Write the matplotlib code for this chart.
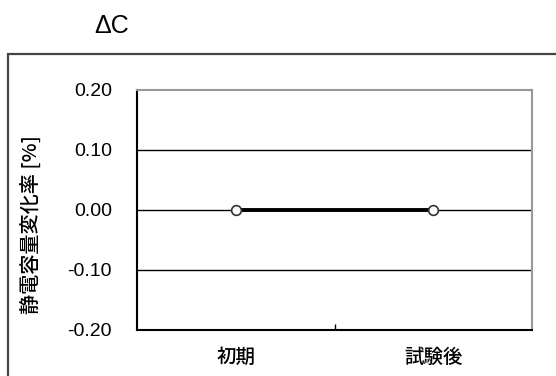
import matplotlib
matplotlib.use("Agg")
import matplotlib.pyplot as plt
from matplotlib.patches import Rectangle
from matplotlib.transforms import ScaledTranslation

plt.rcParams['font.family'] = ['Liberation Sans', 'Noto Sans CJK JP', 'DejaVu Sans']

categories = ['初期', '試験後']
values = [0.00, 0.00]
yticks = [-0.20, -0.10, 0.00, 0.10, 0.20]
title = 'ΔC'
ylabel = '静電容量変化率 [%]'

W, H = 556, 376
fig = plt.figure(figsize=(W/100, H/100), dpi=100)

# outer frame
fig.add_artist(Rectangle((8/W, -0.1), 1.2, (H-54)/H + 0.1, transform=fig.transFigure,
                         fill=False, edgecolor='#444444', linewidth=1.6))

ax = fig.add_axes([137/W, 1-330/H, (532-137)/W, (330-90)/H])
x = [0.5, 1.5]
ax.set_xlim(0, 2)
ax.set_ylim(-0.2, 0.2)
for yv in [-0.1, 0.0, 0.1]:
    ax.axhline(yv, color='black', linewidth=1.0, zorder=1)
ax.plot(x, values, color='black', linewidth=2.8, marker='o', markersize=7,
        markerfacecolor='white', markeredgecolor='#333333', markeredgewidth=1.2, zorder=3)

ax.set_yticks(yticks)
ax.set_yticklabels([f'{v:.2f}' for v in yticks], fontsize=14)
ax.set_xticks([1.0])
ax.set_xticklabels([''])
ax.tick_params(axis='y', length=0, pad=18)
ax.tick_params(axis='x', direction='in', length=4, width=1)
off = ScaledTranslation(0, -27/100, fig.dpi_scale_trans)
for i, c in enumerate(categories):
    ax.text(x[i], -0.2, c, transform=ax.transData + off, ha='center', va='center',
            fontsize=14, family=['Noto Sans CJK JP'], fontweight='medium')

ax.spines['left'].set_color('black')
ax.spines['bottom'].set_color('black')
ax.spines['top'].set_color('#999999')
ax.spines['right'].set_color('#999999')
for s in ax.spines.values():
    s.set_linewidth(1.5)

fig.text(112/W, 1-26/H, title, ha='center', va='center', fontsize=18)
fig.text(31/W, 1-225/H, ylabel, rotation=90, ha='center', va='center', fontsize=14.5,
         family=['Noto Sans CJK JP'], fontweight='medium')

fig.savefig('out.png', dpi=100)
